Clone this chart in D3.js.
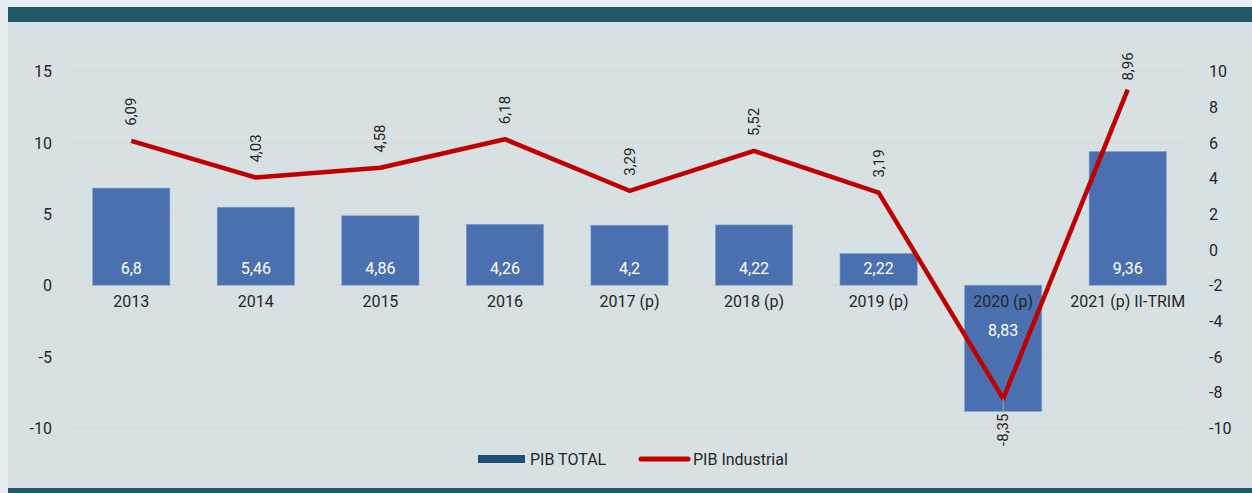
<!DOCTYPE html>
<html><head><meta charset="utf-8">
<script src="https://cdn.jsdelivr.net/npm/d3@7"></script>
<style>
html,body{margin:0;padding:0;background:#e7edf0;}
svg{display:block;}
text{font-family:"Roboto","Liberation Sans",sans-serif;}
</style></head><body>
<svg id="chart" width="1252" height="493"></svg>
<script>
const categories = ["2013","2014","2015","2016","2017 (p)","2018 (p)","2019 (p)","2020 (p)","2021 (p) II-TRIM"];
const pibTotal = [6.8, 5.46, 4.86, 4.26, 4.2, 4.22, 2.22, -8.83, 9.36];
const pibIndustrial = [6.09, 4.03, 4.58, 6.18, 3.29, 5.52, 3.19, -8.35, 8.96];
const leftTicks = [-10, -5, 0, 5, 10, 15];
const rightTicks = [-10, -8, -6, -4, -2, 0, 2, 4, 6, 8, 10];
const seriesNames = ["PIB TOTAL", "PIB Industrial"];

const svg = d3.select("#chart");
const W = 1252, H = 493;
// panel
svg.append("rect").attr("x",8).attr("y",7).attr("width",W-8).attr("height",H-7).attr("fill","#d7e0e3");
svg.append("rect").attr("x",8).attr("y",7).attr("width",W-8).attr("height",15).attr("fill","#215967");
svg.append("rect").attr("x",8).attr("y",488).attr("width",W-8).attr("height",5).attr("fill","#215967");

const x = d3.scaleBand().domain(categories).range([69,1190]).paddingInner(0.38).paddingOuter(0.19);
const yL = d3.scaleLinear().domain([-10,15]).range([428,71]);
const yR = d3.scaleLinear().domain([-10,10]).range([428,71]);
const fmt = v => String(Math.abs(v)).replace(".",",");
const fmtS = v => String(v).replace(".",",");

// grid
svg.append("g").selectAll("line").data(leftTicks).join("line")
  .attr("x1",69).attr("x2",1190).attr("y1",d=>yL(d)).attr("y2",d=>yL(d))
  .attr("stroke","#dcdad9").attr("stroke-width",1.5);

// left axis
const axL = svg.append("g").attr("transform","translate(52,0)")
  .call(d3.axisLeft(yL).tickValues(leftTicks).tickSize(0).tickPadding(0).tickFormat(d=>d));
axL.select(".domain").remove();
axL.selectAll("text").attr("font-size",16).attr("fill","#262626").attr("dy","0.35em");

// right axis
const axR = svg.append("g").attr("transform","translate(1209,0)")
  .call(d3.axisRight(yR).tickValues(rightTicks).tickSize(0).tickPadding(0).tickFormat(d=>d));
axR.select(".domain").remove();
axR.selectAll("text").attr("font-size",16).attr("fill","#262626").attr("dy","0.35em");

// bars
svg.append("g").selectAll("rect").data(pibTotal).join("rect")
  .attr("x",(d,i)=>x(categories[i])).attr("width",x.bandwidth())
  .attr("y",d=>Math.min(yL(d),yL(0))).attr("height",d=>Math.abs(yL(d)-yL(0)))
  .attr("fill","#4a70b0").attr("stroke","#7f9fd0").attr("stroke-width",0.6);

// category labels
svg.append("g").selectAll("text").data(categories).join("text")
  .attr("x",d=>x(d)+x.bandwidth()/2).attr("y",yL(0)+22)
  .attr("text-anchor","middle").attr("font-size",16).attr("fill","#262626").text(d=>d);

// bar value labels
svg.append("g").selectAll("text").data(pibTotal).join("text")
  .attr("x",(d,i)=>x(categories[i])+x.bandwidth()/2)
  .attr("y",d=> d>=0 ? yL(0)-11 : yL(0)+51)
  .attr("text-anchor","middle").attr("font-size",16).attr("fill","#ffffff").text(d=>fmt(d));

// line
const cx = i => x(categories[i])+x.bandwidth()/2;
svg.append("path").datum(pibIndustrial)
  .attr("d", d3.line().x((d,i)=>cx(i)).y(d=>yR(d)))
  .attr("fill","none").attr("stroke","#c00000").attr("stroke-width",4.5).attr("stroke-linejoin","round");

// line labels
pibIndustrial.forEach((v,i)=>{
  const px = cx(i), py = yR(v);
  if (v >= 0) {
    const gap = i === pibIndustrial.length-1 ? 9 : 15;
    svg.append("text").attr("transform",`translate(${px+5},${py-gap}) rotate(-90)`)
      .attr("text-anchor","start").attr("font-size",15).attr("fill","#262626").text(fmtS(v));
  } else {
    svg.append("line").attr("x1",px).attr("x2",px).attr("y1",py).attr("y2",py+14)
      .attr("stroke","#a0a0a0").attr("stroke-width",1);
    svg.append("text").attr("transform",`translate(${px+5},${py+15}) rotate(-90)`)
      .attr("text-anchor","end").attr("font-size",15).attr("fill","#262626").text(fmtS(v));
  }
});

// legend
const lg = svg.append("g");
lg.append("rect").attr("x",478).attr("y",455).attr("width",47).attr("height",8).attr("fill","#1f4e79");
lg.append("text").attr("x",530).attr("y",459).attr("dy","0.35em").attr("font-size",16).attr("fill","#262626").text(seriesNames[0]);
lg.append("line").attr("x1",641).attr("x2",688).attr("y1",459).attr("y2",459)
  .attr("stroke","#c00000").attr("stroke-width",5).attr("stroke-linecap","round");
lg.append("text").attr("x",693).attr("y",459).attr("dy","0.35em").attr("font-size",16).attr("fill","#262626").text(seriesNames[1]);
</script>
</body></html>
